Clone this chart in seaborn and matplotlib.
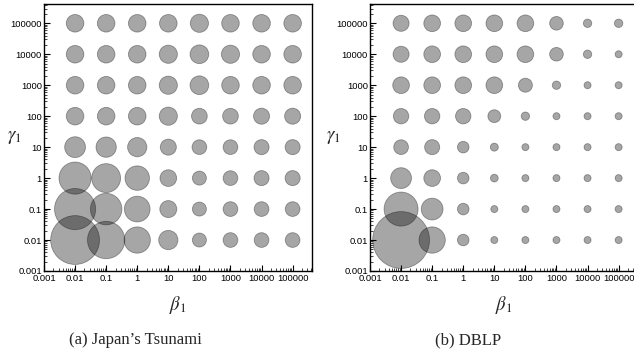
import numpy as np
import pandas as pd
import matplotlib
matplotlib.use("Agg")
import matplotlib.pyplot as plt
from matplotlib.ticker import FixedLocator, FixedFormatter, LogLocator, NullFormatter
import seaborn as sns

# ---- data ----
beta_vals = [0.01, 0.1, 1, 10, 100, 1000, 10000, 100000]
gamma_vals = [0.01, 0.1, 1, 10, 100, 1000, 10000, 100000]
tick_vals = [0.001, 0.01, 0.1, 1, 10, 100, 1000, 10000, 100000]
tick_labels = ["0.001", "0.01", "0.1", "1", "10", "100", "1000", "10000", "100000"]

# bubble magnitude (proportional to area); rows: gamma ascending, cols: beta ascending
tsunami = [
    [231, 135, 67, 36, 19, 21, 21, 21],   # gamma = 0.01
    [164, 96, 64, 28, 19, 21, 21, 21],    # gamma = 0.1
    [100, 81, 58, 27, 19, 21, 22, 22],    # gamma = 1
    [42, 40, 36, 25, 21, 21, 22, 22],     # gamma = 10
    [30, 30, 30, 32, 24, 24, 25, 25],     # gamma = 100
    [30, 30, 30, 32, 34, 30, 30, 30],     # gamma = 1000
    [30, 30, 30, 32, 34, 32, 30, 30],     # gamma = 10000
    [30, 30, 30, 30, 32, 30, 30, 30],     # gamma = 100000
]
dblp = [
    [313, 67, 13, 4.8, 4.8, 4.8, 4.8, 4.8],
    [112, 46, 13, 4.8, 4.8, 4.8, 4.8, 4.8],
    [42, 27, 13, 5.8, 4.8, 4.8, 4.8, 4.8],
    [21, 22, 13, 6.2, 4.8, 4.8, 4.8, 4.8],
    [23, 23, 23, 16, 6.8, 4.8, 4.8, 4.8],
    [27, 27, 27, 27, 19, 6.8, 4.8, 4.8],
    [25, 27, 27, 27, 27, 18, 6.8, 4.8],
    [25, 27, 27, 27, 27, 18, 6.8, 6.8],
]
captions = ["(a) Japan\u2019s Tsunami", "(b) DBLP"]


def to_frame(grid):
    rows = []
    for gi, g in enumerate(gamma_vals):
        for bi, b in enumerate(beta_vals):
            rows.append({"beta": b, "gamma": g, "mag": grid[gi][bi]})
    return pd.DataFrame(rows)


sns.set_style("ticks")
plt.rcParams["font.family"] = ["Liberation Sans", "DejaVu Sans"]
plt.rcParams["mathtext.fontset"] = "stix"

W, H = 634, 362
fig = plt.figure(figsize=(W / 100, H / 100), dpi=100)

axes_px = [(44, 4, 268, 267), (370, 4, 268, 267)]
label_x_px = [14, 333]
caption_x_px = [135, 468]
scale = 5.76 * 0.93  # pt^2 per unit magnitude

for k, grid in enumerate([tsunami, dblp]):
    x0, y0, w, h = axes_px[k]
    ax = fig.add_axes([x0 / W, 1 - (y0 + h) / H, w / W, h / H])
    df = to_frame(grid)
    vmax = df["mag"].max()
    sns.scatterplot(data=df, x="beta", y="gamma", size="mag",
                    sizes=(0, vmax * scale), size_norm=(0, vmax),
                    color="black", alpha=0.35, edgecolor="black",
                    linewidth=0.6, legend=False, ax=ax, zorder=3)
    ax.set_xscale("log")
    ax.set_yscale("log")
    ax.set_xlim(1e-3, 4.2e5)
    ax.set_ylim(1e-3, 4.2e5)
    for axis in (ax.xaxis, ax.yaxis):
        axis.set_major_locator(FixedLocator(tick_vals))
        axis.set_major_formatter(FixedFormatter(tick_labels))
        axis.set_minor_locator(LogLocator(base=10, subs=np.arange(2, 10), numticks=20))
        axis.set_minor_formatter(NullFormatter())
    ax.tick_params(which="major", direction="in", length=4, width=0.8,
                   labelsize=6.8, pad=2.5, colors="black", top=False, right=False)
    ax.tick_params(which="minor", direction="in", length=2, width=0.6,
                   top=False, right=False)
    ax.tick_params(axis="y", pad=1.5)
    for s in ax.spines.values():
        s.set_visible(True)
        s.set_color("black")
        s.set_linewidth(1.0)
    ax.set_xlabel(r"$\beta_1$", fontsize=13.5, va="center", ha="center")
    ax.set_ylabel(r"$\gamma_1$", fontsize=13.5, rotation=0, va="center", ha="center")
    ax.xaxis.set_label_coords(0.5, -34 / h)
    ax.yaxis.set_label_coords((label_x_px[k] - x0) / w, 0.5)
    fig.text(caption_x_px[k] / W, 1 - 340 / H, captions[k],
             family=["Liberation Serif", "DejaVu Serif"], fontsize=12,
             ha="center", va="center")

fig.savefig("out.png", dpi=100)
